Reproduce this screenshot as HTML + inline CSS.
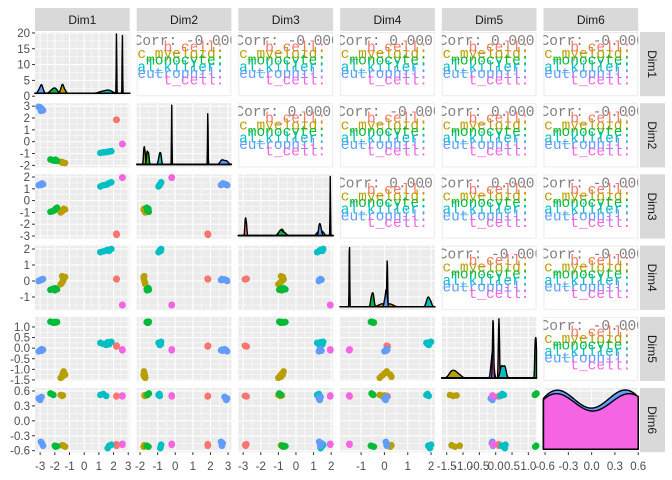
<!DOCTYPE html>
<html><head><meta charset="utf-8"><style>
body{margin:0;background:#fff}
svg{display:block;font-family:"Liberation Sans",sans-serif}
</style></head><body>
<svg id="chart" width="672" height="480" viewBox="0 0 672 480"></svg>
<script>
const groups = ["b_cell","classic_myeloid","monocyte","natural_killer","neutrophil","t_cell"];
const colors = ["#F8766D","#B79F00","#00BA38","#00BFC4","#619CFF","#F564E3"];
const cellType = [0,0,0,0,0,0, 1,1,1,1,1,1, 2,2,2,2,2,2, 3,3,3,3,3,3, 4,4,4,4,4,4, 5,5,5,5,5,5];
const dim1 = [2.2,2.205,2.195,2.202,2.198,2.2, -1.6,-1.5,-1.45,-1.4,-1.3,-1.5, -2.3,-2.15,-2.1,-2.0,-1.95,-1.85, 1.1,1.3,1.5,1.6,1.7,1.85, -3.1,-3.0,-2.9,-2.88,-2.8,-2.95, 2.6,2.602,2.598,2.601,2.599,2.6];
const dim2 = [1.85,1.86,1.84,1.855,1.845,1.85, -1.7,-1.72,-1.75,-1.78,-1.8,-1.76, -1.5,-1.55,-1.58,-1.6,-1.52,-1.62, -0.95,-0.9,-0.88,-0.85,-0.82,-0.8, 2.95,2.9,2.8,2.7,2.65,2.6, -0.2,-0.202,-0.198,-0.201,-0.199,-0.2];
const dim3 = [-2.85,-2.9,-2.8,-2.88,-2.82,-2.86, -1.0,-0.9,-0.8,-0.7,-0.75,-0.85, -0.95,-0.9,-0.85,-0.8,-0.7,-0.6, 1.2,1.3,1.35,1.4,1.5,1.55, 1.3,1.35,1.4,1.45,1.38,1.32, 1.95,1.952,1.948,1.951,1.949,1.95];
const dim4 = [0.12,0.1,0.14,0.11,0.13,0.12, -0.2,-0.1,0.0,0.1,0.25,0.3, -0.55,-0.5,-0.48,-0.58,-0.45,-0.52, 1.8,1.85,1.9,1.95,1.88,2.0, 0.0,0.05,0.1,0.08,0.12,0.06, -1.5,-1.51,-1.49,-1.505,-1.495,-1.5];
const dim5 = [0.1,0.12,0.08,0.11,0.09,0.1, -1.4,-1.3,-1.2,-1.1,-1.25,-1.35, 1.25,1.22,1.2,1.24,1.21,1.23, 0.25,0.2,0.15,0.28,0.18,0.3, -0.15,-0.1,-0.05,-0.12,-0.08,-0.1, -0.08,-0.1,-0.06,-0.09,-0.07,-0.08];
const dim6 = [0.5,0.5,0.49,-0.48,-0.47,-0.5, 0.52,0.5,0.51,-0.5,-0.52,-0.49, 0.55,0.53,0.52,-0.5,-0.52,-0.51, 0.52,0.54,0.5,-0.55,-0.5,-0.48, 0.45,0.42,0.48,-0.45,-0.5,-0.42, 0.5,0.51,0.49,-0.47,-0.48,-0.46];
const corrText = [[null,"Corr: -0.000","Corr: -0.000","Corr: 0.000","Corr: 0.000","Corr: -0.000"],
 [null,null,"Corr: 0.000","Corr: -0.000","Corr: 0.000","Corr: -0.000"],
 [null,null,null,"Corr: 0.000","Corr: 0.000","Corr: -0.000"],
 [null,null,null,null,"Corr: -0.000","Corr: -0.000"],
 [null,null,null,null,null,"Corr: -0.000"]];
const dimNames = ["Dim1","Dim2","Dim3","Dim4","Dim5","Dim6"];
const tickVals = [[-3,-2,-1,0,1,2,3],[-2,-1,0,1,2,3],[-3,-2,-1,0,1,2],[-1,0,1,2],[-1.5,-1,-0.5,0,0.5,1],[-0.6,-0.3,0,0.3,0.6]];
const tickLabels = [["-3","-2","-1","0","1","2","3"],["-2","-1","0","1","2","3"],["-3","-2","-1","0","1","2"],["-1","0","1","2"],["-1.5","-1.0","-0.5","0.0","0.5","1.0"],["-0.6","-0.3","0.0","0.3","0.6"]];
const row1Ticks = [0,5,10,15,20];
const xRanges = [[-3.35,3.1],[-2.19,3.19],[-3.27,2.11],[-1.9,2.16],[-1.65,1.25],[-0.62,0.6]];
const yRanges = [[-3.35,3.1],[-2.17,3.25],[-3.22,2.22],[-1.8,2.21],[-1.55,1.48],[-0.63,0.66]];
const dims = [dim1,dim2,dim3,dim4,dim5,dim6];

const NS="http://www.w3.org/2000/svg";
const svg=document.getElementById('chart');
function mk(tag,attrs,parent){const e=document.createElementNS(NS,tag);for(const k in attrs)e.setAttribute(k,attrs[k]);(parent||svg).appendChild(e);return e;}
const L=35,T=32,W=94.7,H=64.2,GX=7,GY=7;
const colX=i=>L+i*(W+GX), rowY=i=>T+i*(H+GY);
function xs(d,v,c){const r=xRanges[d];return colX(c)+(v-r[0])/(r[1]-r[0])*W;}
function ys(d,v,r0){const r=yRanges[d];return rowY(r0)+H-(v-r[0])/(r[1]-r[0])*H;}

const defs=mk('defs',{});
for(let i=0;i<6;i++){
  const s=mk('rect',{x:colX(i),y:8,width:W,height:23,fill:'#D9D9D9'});
  
  
  const t=mk('text',{x:colX(i)+W/2,y:24,'text-anchor':'middle','font-size':12,fill:'#1A1A1A'});
  t.textContent=dimNames[i];
  
  
  const s2=mk('rect',{x:640,y:rowY(i),width:25,height:H,fill:'#D9D9D9'});
  
  
  const cy=rowY(i)+H/2;
  const t2=mk('text',{x:648,y:cy,'text-anchor':'middle','font-size':12,fill:'#1A1A1A',transform:`rotate(90 648 ${cy})`});
  t2.textContent=dimNames[i];
  
  
}
function grid(r,c,yt){
  const g=mk('g',{});
  
  
  mk('rect',{x:colX(c),y:rowY(r),width:W,height:H,fill:'#EBEBEB'},g);
  const xt=tickVals[c];
  const yfun=yt.f;
  const lines=(vals,isX,major)=>vals.forEach(v=>{
    if(isX){const x=xs(c,v,c);if(x<colX(c)||x>colX(c)+W)return;mk('line',{x1:x,x2:x,y1:rowY(r),y2:rowY(r)+H,stroke:'#fff','stroke-width':major?1.1:0.5},g);}
    else{const y=yfun(v);if(y<rowY(r)||y>rowY(r)+H)return;mk('line',{x1:colX(c),x2:colX(c)+W,y1:y,y2:y,stroke:'#fff','stroke-width':major?1.1:0.5},g);}
  });
  const mids=a=>{const m=[];const st=a[1]-a[0];m.push(a[0]-st/2);for(let i=0;i<a.length;i++)m.push(a[i]+st/2);return m;};
  lines(mids(xt),true,false);lines(mids(yt.v),false,false);
  lines(xt,true,true);lines(yt.v,false,true);
}
function kde(vals,lo,hi){
  const n=vals.length,m=vals.reduce((a,b)=>a+b,0)/n;
  const sd=Math.sqrt(vals.reduce((a,b)=>a+(b-m)*(b-m),0)/(n-1));
  const bw=Math.max(0.9*sd*Math.pow(n,-0.2),(hi-lo)*0.0025);
  const pts=[];
  for(let i=0;i<=300;i++){const x=lo+(hi-lo)*i/300;let s=0;vals.forEach(v=>{const z=(x-v)/bw;s+=Math.exp(-0.5*z*z);});pts.push([x,s/(n*bw*Math.sqrt(2*Math.PI))]);}
  return pts;
}
for(let r=0;r<6;r++){
  for(let c=0;c<6;c++){
    const px=colX(c),py=rowY(r);
    if(c>r){
      const g=mk('g',{});
      
      
      const id='clip'+r+c;
      const cp=mk('clipPath',{id},defs);mk('rect',{x:px,y:py,width:W,height:H},cp);
      mk('rect',{x:px+0.5,y:py+0.5,width:W-1,height:H-1,fill:'#fff',stroke:'#EBEBEB'},g);
      const tg=mk('g',{'clip-path':`url(#${id})`,'font-family':'"Liberation Mono",monospace','font-size':14.5},g);
      const ct=mk('text',{x:px-3,y:py+13,fill:'#808080'},tg);
      ct.textContent=corrText[r][c];
      
      
      groups.forEach((gname,k)=>{
        const t=mk('text',{x:px+W-7,y:py+19.5+k*6.6,fill:colors[k],'text-anchor':'end'},tg);
        t.textContent=gname+':';
        
        
      });
    } else if(c===r){
      const yt=r===0?{v:row1Ticks,f:v=>py+H-v/20.3*H}:{v:tickVals[r],f:v=>ys(r,v,r)};
      grid(r,c,yt);
      const lo=xRanges[c][0],hi=xRanges[c][1];
      const curves=groups.map((g,k)=>kde(dims[c].filter((v,i)=>cellType[i]===k),lo,hi));
      let mx=0;curves.forEach(cv=>cv.forEach(p=>{if(p[1]>mx)mx=p[1];}));
      const base=py+H-3,top=py+2;
      curves.forEach((cv,k)=>{
        let d=`M${xs(c,cv[0][0],c)},${base}`;
        cv.forEach(p=>{d+=`L${xs(c,p[0],c).toFixed(2)},${(base-(p[1]/mx)*(base-top)).toFixed(2)}`;});
        d+=`L${xs(c,cv[cv.length-1][0],c)},${base}Z`;
        const p=mk('path',{d,fill:colors[k],stroke:'#000','stroke-width':1.4,'stroke-linejoin':'round'});
        
        
      });
    } else {
      grid(r,c,{v:tickVals[r],f:v=>ys(r,v,r)});
      const g=mk('g',{});
      
      
      for(let i=0;i<cellType.length;i++){
        const pt=mk('circle',{cx:xs(c,dims[c][i],c),cy:ys(r,dims[r][i],r),r:3.3,fill:colors[cellType[i]]},g);
        
        
      }
    }
  }
}
for(let c=0;c<6;c++){
  tickVals[c].forEach((v,k)=>{
    const x=xs(c,v,c);
    mk('line',{x1:x,x2:x,y1:452.2,y2:455,stroke:'#333','stroke-width':1});
    const t=mk('text',{x:x,y:470,'text-anchor':'middle','font-size':11.5,fill:'#4D4D4D'});
    t.textContent=tickLabels[c][k];
    
    
  });
}
for(let r=0;r<6;r++){
  const vals=r===0?row1Ticks:tickVals[r];
  const labs=r===0?row1Ticks.map(String):tickLabels[r];
  vals.forEach((v,k)=>{
    const y=r===0?rowY(0)+H-v/20.3*H:ys(r,v,r);
    mk('line',{x1:32,x2:35,y1:y,y2:y,stroke:'#333','stroke-width':1});
    const t=mk('text',{x:30,y:y+4,'text-anchor':'end','font-size':11.5,fill:'#4D4D4D'});
    t.textContent=labs[k];
    
    
  });
}
</script>
</body></html>
